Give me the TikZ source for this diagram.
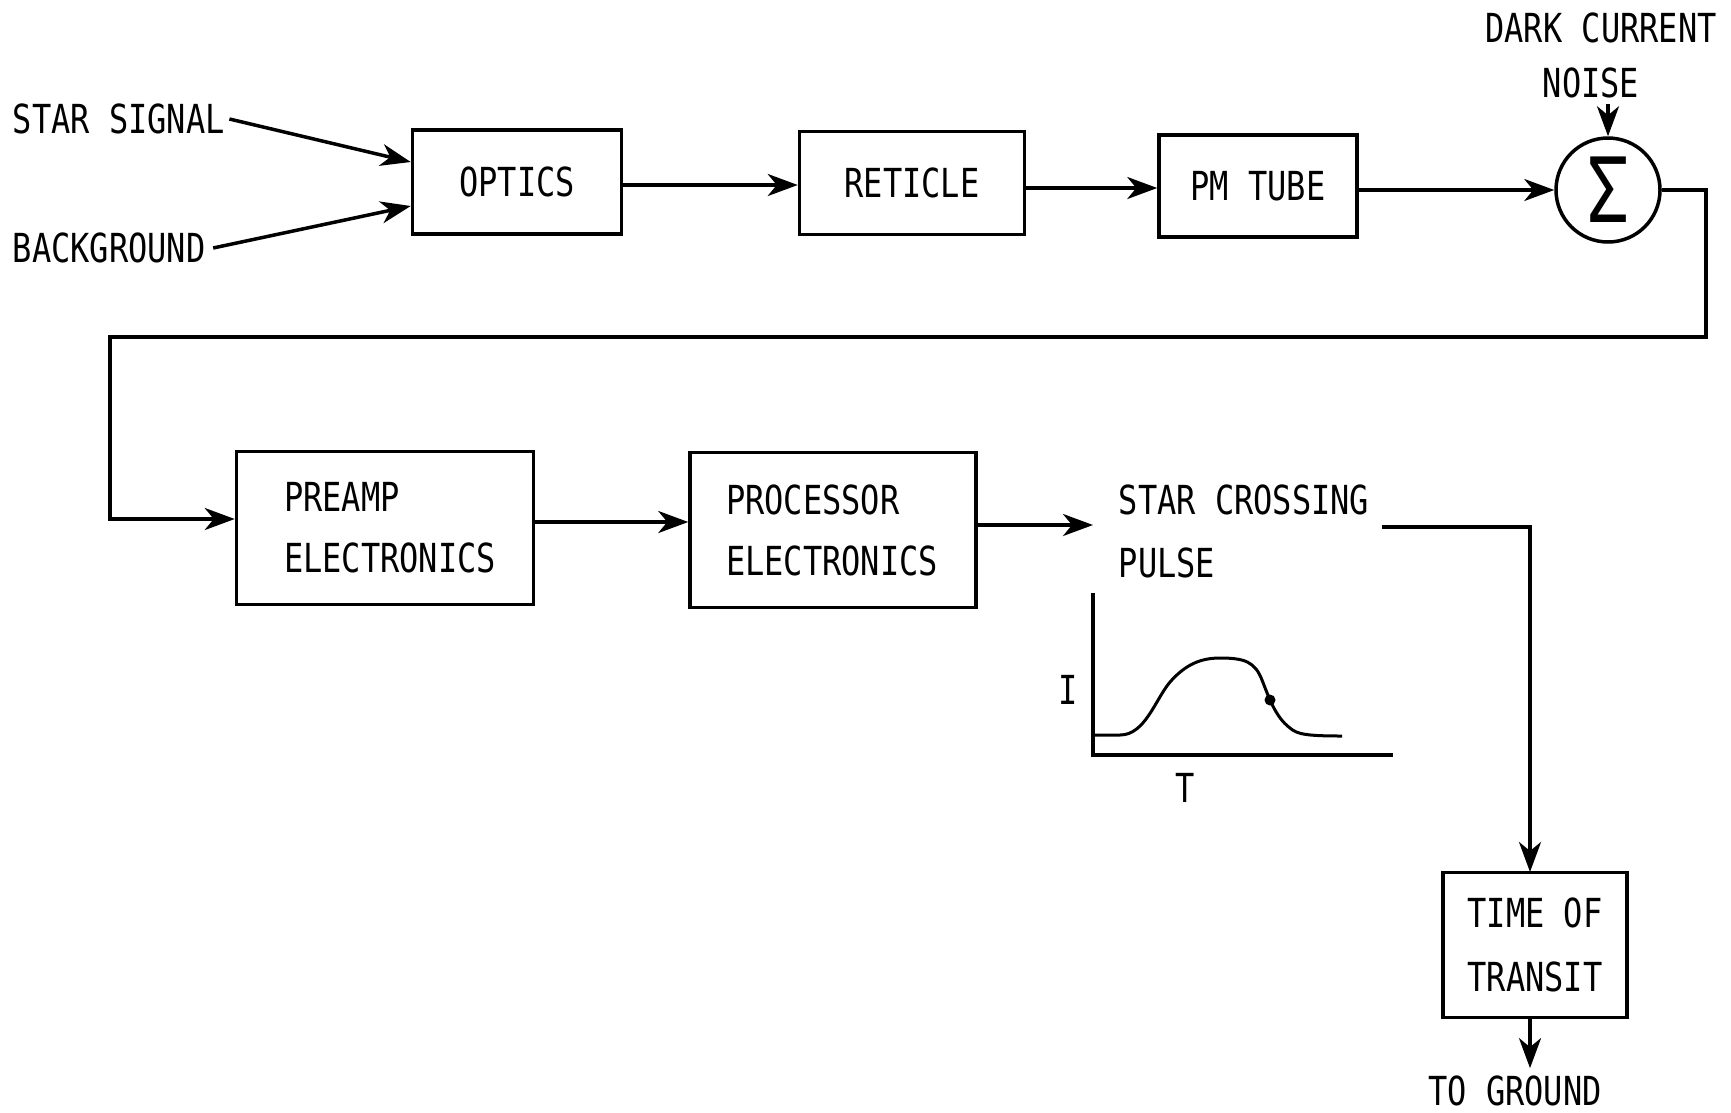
\documentclass[tikz,border=0pt]{standalone}
\usepackage{fontspec}
\setmonofont[FakeStretch=0.80]{DejaVu Sans Mono}
\usetikzlibrary{arrows.meta}
\begin{document}
\begin{tikzpicture}[x=1pt,y=-1pt, line width=3.5pt,
  lbl/.style={font=\ttfamily\fontsize{40}{61}\selectfont, inner sep=0pt},
  blk/.style={draw, font=\ttfamily\fontsize{40}{61}\selectfont, inner sep=0pt},
  arr/.style={-{Stealth[length=30pt,width=22pt,inset=9pt]}},
]
\useasboundingbox (0,0) rectangle (1731,1112);
% top row
\node[lbl, anchor=west] (ss) at (11,119) {STAR SIGNAL};
\node[lbl, anchor=west] (bg) at (11,248) {BACKGROUND};
\node[blk, minimum width=209pt, minimum height=104pt] (optics) at (517,182) {OPTICS};
\node[blk, minimum width=225pt, minimum height=103pt] (reticle) at (912,183) {RETICLE};
\node[blk, minimum width=198pt, minimum height=102pt] (pm) at (1258,186) {PM TUBE};
\node[draw, circle, minimum size=104pt, inner sep=0pt] (sum) at (1608,190) {\ttfamily\fontsize{90}{90}\selectfont Σ};
\node[lbl] (dc) at (1601,28) {DARK CURRENT};
\node[lbl] (noise) at (1591,83) {NOISE};

\draw[arr] ([xshift=3pt]ss.east) -- ([yshift=20pt]optics.west);
\draw[arr] ([xshift=6pt]bg.east) -- ([yshift=-24pt]optics.west);
\draw[arr] ([yshift=-3pt]optics.east) -- ([yshift=-2pt]reticle.west);
\draw[arr] ([yshift=-5pt]reticle.east) -- ([yshift=-2pt]pm.west);
\draw[arr] ([yshift=-4pt]pm.east) -- (sum.west);
\draw[arr] ([yshift=-4pt]noise.south -| sum.north) -- (sum.north);

% second row
\node[blk, minimum width=297pt, minimum height=153pt, text width=214pt, align=left] (preamp) at (385,528) {\hspace*{6pt}PREAMP\\\hspace*{6pt}ELECTRONICS};
\node[blk, minimum width=286pt, minimum height=155pt, text width=214pt, align=left] (proc) at (833,530) {PROCESSOR\\ELECTRONICS};
\node[lbl, anchor=west] (sc) at (1117,500) {STAR CROSSING};
\node[lbl, anchor=west] (pulse) at (1117,563) {PULSE};
\coordinate (sctip) at (1093,525);
\coordinate (scout) at (1382,527);
\coordinate (fb1) at (1706,337);
\coordinate (fb2) at (110,337);
\coordinate (totin) at (1530,872);

\draw[arr] (sum.east) -| (fb1) -- (fb2) |- ([yshift=9pt]preamp.west);
\draw[arr] ([yshift=6pt]preamp.east) -- ([yshift=8pt]proc.west);
\draw[arr] ([yshift=5pt]proc.east) -- (sctip);

% time of transit
\node[blk, minimum width=184pt, minimum height=145pt, align=center, font=\ttfamily\fontsize{40}{64}\selectfont] (tot) at (1535,945) {TIME OF\\TRANSIT};
\node[lbl] (tg) at (1515,1091) {TO GROUND};
\draw[arr] (scout) -| (totin);
\draw[arr] (tot.south -| totin) -- ([yshift=6pt]tg.north -| totin);

% pulse graph
\draw (1093,593) -- (1093,755) -- (1393,755);
\node[lbl] (ilab) at (1068,690) {I};
\node[lbl] (tlab) at (1185,788) {T};
\draw[line width=3pt] (1093,735) -- (1120,735)
  .. controls (1145,735) and (1155,700) .. (1170,682)
  .. controls (1185,665) and (1200,658) .. (1220,658)
  .. controls (1245,658) and (1255,662) .. (1262,680)
  .. controls (1268,695) and (1275,717) .. (1290,728)
  .. controls (1297,734) and (1305,736) .. (1342,736);
\fill (1270,700) circle (5.5pt);
\end{tikzpicture}
\end{document}
